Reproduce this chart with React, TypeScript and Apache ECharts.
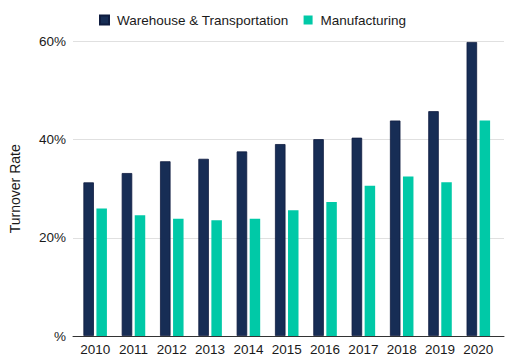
import React, { useEffect, useRef } from "react";
import * as echarts from "echarts";

const years = ["2010", "2011", "2012", "2013", "2014", "2015", "2016", "2017", "2018", "2019", "2020"];
const warehouse = [31.3, 33.2, 35.6, 36.1, 37.6, 39.1, 40.1, 40.4, 43.9, 45.8, 59.9];
const manufacturing = [26.0, 24.6, 23.9, 23.6, 23.9, 25.6, 27.3, 30.6, 32.5, 31.3, 43.9];
const seriesNames = ["Warehouse & Transportation", "Manufacturing"];
const yTicks = [0, 20, 40, 60];

const FONT = "'Liberation Sans', Arial, sans-serif";

export default function App() {
  const ref = useRef<HTMLDivElement>(null);
  useEffect(() => {
    if (!ref.current) return;
    const chart = echarts.init(ref.current, null, { renderer: "svg" });
    chart.setOption({
      animation: false,
      textStyle: { fontFamily: FONT },
      legend: {
        top: 8,
        left: 94,
        itemWidth: 9,
        itemHeight: 9,
        itemGap: 15,
        icon: "rect",
        textStyle: { fontSize: 13.5, color: "#1a1a1a", fontFamily: FONT, padding: [0, 0, 0, 3] },
        data: seriesNames,
      },
      grid: [
        { left: 69, right: 8, top: 41.5, bottom: 27 },
        { left: 76, right: 14.5, top: 41.5, bottom: 27 },
      ],
      xAxis: [
        {
          gridIndex: 0,
          type: "category",
          data: [""],
          axisLine: { show: true, lineStyle: { color: "#333", width: 1 } },
          axisTick: { show: false },
          axisLabel: { show: false },
        },
        {
          gridIndex: 1,
          type: "category",
          data: years,
          axisLine: { show: false },
          axisTick: { show: false },
          axisLabel: { color: "#1a1a1a", fontSize: 13.5, margin: 6, fontFamily: FONT, interval: 0, hideOverlap: false },
        },
      ],
      yAxis: [
        {
          gridIndex: 0,
          type: "value",
          min: yTicks[0],
          max: yTicks[yTicks.length - 1],
          interval: 20,
          name: "Turnover Rate",
          nameLocation: "middle",
          nameGap: 51,
          nameTextStyle: { fontSize: 14, color: "#1a1a1a", fontFamily: FONT },
          axisLine: { show: false },
          axisTick: { show: false },
          axisLabel: {
            color: "#1a1a1a",
            fontSize: 13.5,
            margin: 7,
            fontFamily: FONT,
            formatter: (v: number) => (v === 0 ? "%" : v + "%"),
          },
          splitLine: { show: true, lineStyle: { color: "#e0e0e0", width: 1 } },
        },
        {
          gridIndex: 1,
          type: "value",
          min: yTicks[0],
          max: yTicks[yTicks.length - 1],
          interval: 20,
          show: false,
          splitLine: { show: false },
        },
      ],
      series: [
        {
          name: seriesNames[0],
          type: "bar",
          xAxisIndex: 1,
          yAxisIndex: 1,
          data: warehouse,
          barWidth: 10.5,
          barGap: "24%",
          itemStyle: { color: "#172d55", borderColor: "#0f1c40", borderWidth: 0.8 },
        },
        {
          name: seriesNames[1],
          type: "bar",
          xAxisIndex: 1,
          yAxisIndex: 1,
          data: manufacturing,
          barWidth: 10.5,
          itemStyle: { color: "#00c9a7" },
        },
      ],
    });
    return () => chart.dispose();
  }, []);
  return (
    <div
      ref={ref}
      style={{ position: "fixed", left: 0, top: 0, width: 512, height: 363, background: "#fff" }}
    />
  );
}
